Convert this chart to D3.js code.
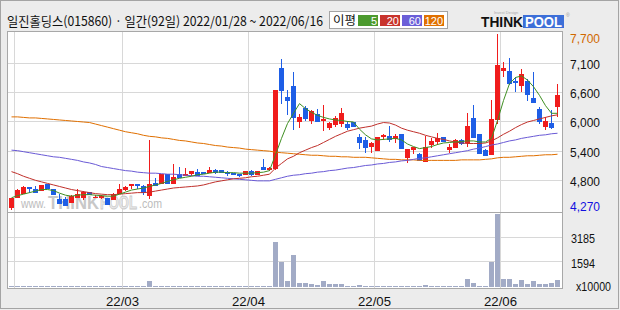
<!DOCTYPE html>
<html>
<head>
<meta charset="utf-8">
<script src="https://cdn.jsdelivr.net/npm/d3@7"></script>
<style>
body { margin: 0; background: #ececec; }
svg { display: block; }
</style>
</head>
<body>
<svg></svg>
<script>
var width = 620;
var height = 310;

// 92 trading days, 2022/01/28 ~ 2022/06/16
var opens  = [4290,4500,4580,4710,4680,4640,4760,4680,4470,4470, 4390,4490,4500,4610,4490,4490,4500,4460,4580,4660,
              4720,4760,4730,4530,4790,4760,4960,4770,4960,4930, 4970,5010,5000,4980,5050,5050,5000,4980,4960,4950,
              5020,4940,5100,5050,5070,7040,6470,6680,5980,6260, 6000,6130,6000,5870,5920,5950,5950,5980,5680,5620,
              5490,5420,5690,5700,5640,5740,5280,5440,5350,5200, 5530,5590,5680,5440,5470,5620,5560,6050,5740,5430,
              5340,6010,6980,6980,6790,6680,6790,6440,6230,5880, 5960,6280];
var highs  = [4500,4680,4730,4710,4730,4750,4760,4680,4580,4510, 4550,4680,4640,4610,4560,4550,4500,4600,4770,4720,
              4760,4760,4750,5620,4880,4960,4960,5150,5110,5080, 5020,5070,5000,5110,5070,5050,5020,4980,4960,5020,
              5040,5030,5260,5110,6600,7210,6600,6960,6140,6290, 6220,6230,6310,5980,6100,6260,6000,5980,5740,5680,
              5580,5680,5750,5900,5740,5740,5450,5490,5370,5710, 5660,5770,5680,5550,5640,5650,6160,6310,5740,5460,
              6410,7700,7160,7240,6860,7010,6820,6950,6280,6080, 6220,6730];
var lows   = [4270,4500,4580,4600,4590,4640,4680,4560,4380,4340, 4390,4490,4460,4550,4490,4470,4360,4460,4580,4630,
              4680,4680,4560,4480,4720,4760,4770,4770,4890,4930, 4920,4920,4960,4980,4970,4980,4920,4950,4900,4950,
              4920,4940,5040,5030,5050,6330,6110,5820,5860,6000, 5940,5980,5800,5830,5890,5890,5820,5880,5450,5370,
              5380,5420,5620,5580,5570,5460,5170,5360,5220,5200, 5480,5530,5580,5370,5470,5530,5490,5670,5360,5310,
              5330,5950,6850,6700,6570,6570,6390,6350,5950,5820, 5840,6080];
var closes = [4500,4660,4710,4680,4590,4740,4680,4560,4380,4340, 4540,4580,4620,4550,4520,4530,4360,4580,4680,4710,
              4760,4730,4590,4770,4720,4960,4770,4900,4890,4970, 5020,4920,4960,5050,4980,4980,4970,4950,4920,5020,
              4940,5020,5040,5090,6600,6590,6390,6060,6070,6030, 6200,5980,6030,5960,6050,6150,5860,5880,5560,5470,
              5560,5680,5720,5620,5700,5460,5450,5490,5220,5490, 5600,5670,5580,5490,5620,5550,5910,5670,5360,5320,
              6030,7090,7030,6730,6750,6920,6510,6360,5980,6000, 5860,6500];
var volumes = [60,80,50,40,50,40,40,50,60,50, 40,50,40,30,30,30,40,40,50,40,
               30,30,40,380,50,50,40,60,40,40, 40,30,30,40,30,30,30,30,30,40,
               30,30,60,40,2860,1600,380,2040,250,250, 170,130,380,190,190,210,60,60,130,50,
               50,60,50,50,50,40,50,50,40,130, 50,50,40,50,50,40,510,250,60,60,
               1590,4650,510,510,210,450,210,380,210,210, 250,450];

var ma5   = [4500,4540,4570,4600,4630,4660,4660,4640,4590,4550, 4530,4550,4560,4560,4550,4540,4530,4530,4570,4610,
             4650,4670,4690,4720,4750,4780,4820,4850,4880,4900, 4920,4950,4960,4980,5000,5000,4990,4990,4980,4980,
             4980,4990,5000,5030,5340,5660,5950,6150,6340,6240, 6170,6110,6070,6040,6020,6010,5990,5980,5840,5730,
             5650,5630,5640,5650,5660,5630,5550,5500,5460,5480, 5500,5540,5570,5580,5590,5600,5610,5610,5590,5590,
             5660,6010,6400,6730,6850,6880,6800,6670,6500,6300, 6150,6150];
var ma20  = [5010,4970,4920,4880,4840,4810,4780,4750,4720,4690, 4660,4640,4620,4600,4580,4570,4560,4560,4570,4580,
             4590,4600,4600,4610,4630,4650,4670,4690,4700,4710, 4720,4730,4750,4780,4810,4830,4850,4870,4880,4890,
             4910,4920,4940,4960,5080,5170,5260,5310,5380,5430, 5480,5520,5580,5640,5700,5750,5800,5830,5860,5880,
             5900,5940,5970,5960,5920,5860,5820,5790,5760,5720, 5690,5660,5640,5610,5590,5570,5560,5560,5560,5570,
             5610,5670,5740,5800,5870,5930,5980,6010,6040,6070, 6100,6120];
var ma60  = [5430,5420,5400,5380,5360,5340,5320,5300,5290,5270, 5250,5230,5200,5180,5150,5110,5090,5070,5050,5030,
             5020,5000,4990,4980,4980,4970,4960,4960,4950,4940, 4930,4920,4920,4910,4900,4890,4880,4870,4860,4850,
             4840,4830,4830,4830,4860,4890,4920,4940,4950,4970, 4980,5000,5010,5030,5040,5060,5080,5090,5110,5130,
             5140,5160,5170,5190,5200,5220,5230,5250,5270,5280, 5300,5320,5340,5360,5380,5400,5420,5450,5470,5500,
             5530,5550,5580,5610,5630,5660,5680,5700,5720,5730, 5750,5760];
var ma120 = [6080,6080,6070,6060,6060,6050,6040,6030,6020,6010, 6000,5990,5980,5970,5940,5910,5880,5850,5820,5790,
             5770,5750,5720,5700,5690,5670,5660,5640,5620,5610, 5590,5570,5560,5540,5520,5510,5490,5480,5470,5450,
             5440,5430,5420,5410,5390,5380,5370,5360,5350,5340, 5330,5330,5320,5310,5310,5300,5300,5290,5290,5290,
             5280,5270,5260,5250,5250,5240,5240,5240,5230,5230, 5230,5230,5230,5230,5230,5240,5240,5240,5240,5250,
             5260,5280,5290,5290,5300,5310,5320,5320,5330,5340, 5340,5350];

var monthStarts = [1, 19, 40, 61, 82];
var monthLabels = ["", "22/03", "22/04", "22/05", "22/06"];
var priceMin = 4270, priceMax = 7700;
var priceTickLabels = ["7,100", "6,600", "6,000", "5,400", "4,800"];
var volMax = 4778;
var volTicks = [3185, 1594];

var upColor = '#f01c1c', downColor = '#1e5ee6';
var maColors = ['#3f8f22', '#c0302b', '#6a5ad6', '#e06f00'];

var svg = d3.select("svg").attr("width", width).attr("height", height);

var x = d3.scaleBand().domain(d3.range(closes.length)).range([8, 560]);
var y = d3.scaleLinear().domain([priceMin, priceMax]).range([209.5, 34]);
var yv = d3.scaleLinear().domain([0, volMax]).range([287, 212]);

// frame
svg.append("rect").attr("x", 0.5).attr("y", 0.5).attr("width", 618).attr("height", 308)
   .attr("fill", "#ececec").attr("stroke", "#a4a4a4");
svg.append("rect").attr("x", 7.5).attr("y", 31.5).attr("width", 555).attr("height", 257)
   .attr("fill", "#fff").attr("stroke", "#a8a8a8");

var grid = svg.append("g").attr("stroke", "#d8d8d8").attr("shape-rendering", "crispEdges");
var gridVals = d3.range(5, 0, -1).map(function(k) { return priceMin + k * (priceMax - priceMin) / 6; });
gridVals.forEach(function(v) {
  var gy = Math.floor(y(v)) + 0.5;
  grid.append("line").attr("x1", 8).attr("x2", 562).attr("y1", gy).attr("y2", gy);
});
volTicks.forEach(function(v) {
  var gy = Math.floor(yv(v)) + 0.5;
  grid.append("line").attr("x1", 8).attr("x2", 562).attr("y1", gy).attr("y2", gy);
});
monthStarts.forEach(function(m) {
  grid.append("line").attr("x1", x(m) + 0.5).attr("x2", x(m) + 0.5).attr("y1", 32).attr("y2", 288);
});
svg.append("line").attr("x1", 8).attr("x2", 562).attr("y1", 212.5).attr("y2", 212.5)
   .attr("stroke", "#a8a8a8").attr("shape-rendering", "crispEdges");

// watermark
var wm = svg.append("g").attr("font-family", "Liberation Sans, Arial, sans-serif");
wm.append("text").attr("x", 21).attr("y", 208).attr("font-size", 12).attr("fill", "#bcbcbc")
  .attr("textLength", 25).attr("lengthAdjust", "spacingAndGlyphs").text("www.");
wm.append("text").attr("x", 48).attr("y", 209).attr("font-size", 19).attr("font-weight", "bold")
  .attr("fill", "#c8c8c8").attr("textLength", 51).attr("lengthAdjust", "spacingAndGlyphs").text("THINK");
wm.append("text").attr("x", 100).attr("y", 209).attr("font-size", 19).attr("font-weight", "bold")
  .attr("fill", "#eaeaea").attr("stroke", "#c8c8c8").attr("stroke-width", 0.8)
  .attr("textLength", 37).attr("lengthAdjust", "spacingAndGlyphs").text("POOL");
wm.append("text").attr("x", 139).attr("y", 208).attr("font-size", 12).attr("fill", "#bcbcbc")
  .attr("textLength", 23).attr("lengthAdjust", "spacingAndGlyphs").text(".com");

// volume
svg.append("g").selectAll("rect").data(volumes).join("rect")
   .attr("x", function(d, i) { return x(i) + 1; })
   .attr("width", 5)
   .attr("y", function(d) { return Math.min(286, yv(d)); })
   .attr("height", function(d) { return Math.max(1, 287 - yv(d)); })
   .attr("fill", "#a2abc6")
   .attr("shape-rendering", "crispEdges");

// candles
var candle = svg.append("g").attr("shape-rendering", "crispEdges")
  .selectAll("g").data(d3.range(closes.length)).join("g")
  .attr("fill", function(i) { return closes[i] >= opens[i] ? upColor : downColor; })
  .attr("stroke", function(i) { return closes[i] >= opens[i] ? upColor : downColor; });
candle.append("line")
  .attr("x1", function(i) { return x(i) + 3.5; })
  .attr("x2", function(i) { return x(i) + 3.5; })
  .attr("y1", function(i) { return y(highs[i]); })
  .attr("y2", function(i) { return y(lows[i]); });
candle.append("rect")
  .attr("stroke", "none")
  .attr("x", function(i) { return x(i) + 1; })
  .attr("width", 5)
  .attr("y", function(i) { return y(Math.max(opens[i], closes[i])); })
  .attr("height", function(i) { return Math.max(1, Math.abs(y(opens[i]) - y(closes[i]))); });

// moving averages
var maLine = d3.line()
  .x(function(d, i) { return x(i) + 3.5; })
  .y(function(d) { return y(d); });
[ma120, ma60, ma20, ma5].forEach(function(s, k) {
  svg.append("path").attr("d", maLine(s)).attr("fill", "none")
     .attr("stroke", maColors[3 - k]).attr("stroke-width", 1);
});

// right axis
var ax = svg.append("g").attr("font-family", "Liberation Sans, Arial, sans-serif").attr("font-size", 13);
ax.append("text").attr("x", 570).attr("y", y(priceMax) + 4).attr("dy", "0.35em").attr("fill", "#d06800")
  .attr("textLength", 30).attr("lengthAdjust", "spacingAndGlyphs").text(d3.format(",")(priceMax));
gridVals.forEach(function(v, k) {
  ax.append("text").attr("x", 570).attr("y", y(v) + 1).attr("dy", "0.35em").attr("fill", "#111")
    .attr("textLength", 30).attr("lengthAdjust", "spacingAndGlyphs").text(priceTickLabels[k]);
});
ax.append("text").attr("x", 570).attr("y", y(priceMin) - 3).attr("dy", "0.35em").attr("fill", "#1010e0")
  .attr("textLength", 30).attr("lengthAdjust", "spacingAndGlyphs").text(d3.format(",")(priceMin));
volTicks.forEach(function(v) {
  ax.append("text").attr("x", 571).attr("y", yv(v) + 1).attr("dy", "0.35em").attr("fill", "#111")
    .attr("textLength", 24).attr("lengthAdjust", "spacingAndGlyphs").text(v);
});
ax.append("text").attr("x", 576).attr("y", 286).attr("dy", "0.35em").attr("fill", "#111")
  .attr("textLength", 35).attr("lengthAdjust", "spacingAndGlyphs").text("x10000");

// bottom axis
monthStarts.forEach(function(m, k) {
  if (!monthLabels[k]) return;
  ax.append("text").attr("x", x(m) + 0.5).attr("y", 301).attr("dy", "0.35em").attr("text-anchor", "middle")
    .attr("fill", "#111").attr("textLength", 33).attr("lengthAdjust", "spacingAndGlyphs").text(monthLabels[k]);
});

// header
svg.append("text").attr("x", 7).attr("y", 26)
   .attr("font-family", "Noto Sans CJK KR, sans-serif").attr("font-size", 13).attr("fill", "#111")
   .attr("textLength", 316).attr("lengthAdjust", "spacingAndGlyphs")
   .text("일진홀딩스(015860) · 일간(92일) 2022/01/28 ~ 2022/06/16");

// legend
var lg = svg.append("g").attr("font-family", "Liberation Sans, Arial, sans-serif");
lg.append("rect").attr("x", 329.5).attr("y", 11.5).attr("width", 118).attr("height", 17)
  .attr("fill", "#fff").attr("stroke", "#a4a4a4");
lg.append("text").attr("x", 333).attr("y", 25).attr("font-family", "Noto Sans CJK KR, sans-serif")
  .attr("font-size", 12).attr("fill", "#111").attr("textLength", 23).attr("lengthAdjust", "spacingAndGlyphs")
  .text("이평");
var legendNames = ["5", "20", "60", "120"];
var legendFills = ['#4c9a2e', '#c8332c', '#6b5fd8', '#e07000'];
legendNames.forEach(function(n, k) {
  lg.append("rect").attr("x", 358 + 22 * k).attr("y", 15).attr("width", 20).attr("height", 11)
    .attr("fill", legendFills[k]);
  lg.append("text").attr("x", 377 + 22 * k).attr("y", 25).attr("text-anchor", "end")
    .attr("font-size", 11).attr("fill", "#fff").text(n);
});

// logo
var logo = svg.append("g").attr("font-family", "Liberation Sans, Arial, sans-serif").attr("font-weight", "bold");
logo.append("text").attr("x", 494).attr("y", 14).attr("font-size", 4).attr("font-weight", "normal")
  .attr("fill", "#aaa").text("Invest Design");
logo.append("text").attr("x", 481).attr("y", 27).attr("font-size", 15).attr("fill", "#111")
  .attr("textLength", 42).attr("lengthAdjust", "spacingAndGlyphs").text("THINK");
logo.append("rect").attr("x", 523).attr("y", 15).attr("width", 41).attr("height", 13).attr("fill", "#3d6fd8");
logo.append("text").attr("x", 525).attr("y", 27).attr("font-size", 14).attr("fill", "#fff")
  .attr("textLength", 37).attr("lengthAdjust", "spacingAndGlyphs").text("POOL");
logo.append("text").attr("x", 566).attr("y", 17).attr("font-size", 5).attr("font-weight", "normal")
  .attr("fill", "#999").text("®");
</script>
</body>
</html>
